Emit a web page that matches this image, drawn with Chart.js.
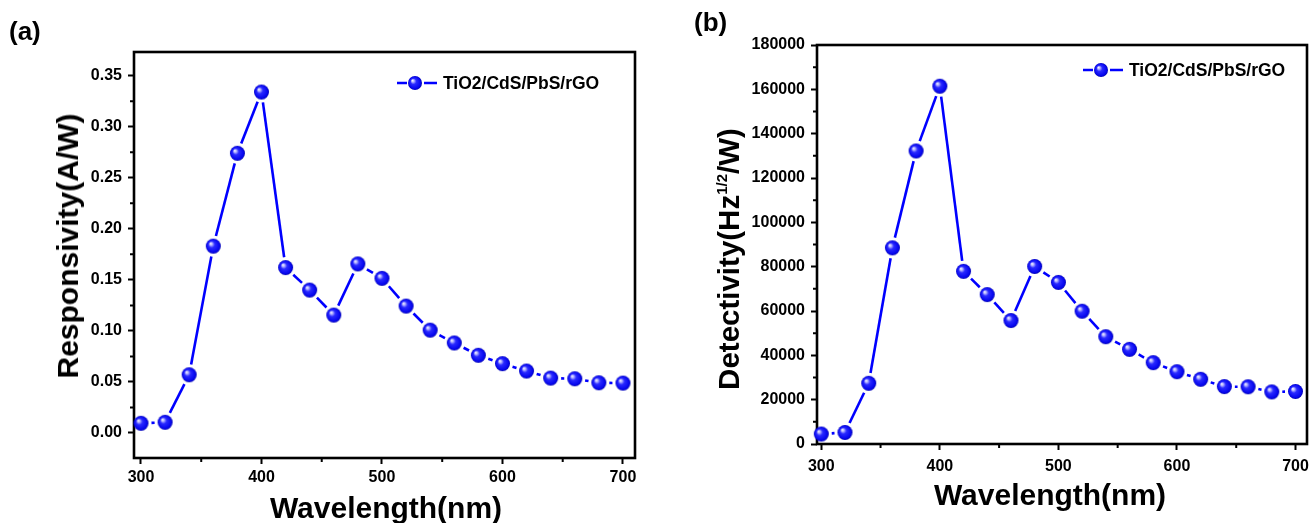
<!DOCTYPE html>
<html>
<head>
<meta charset="utf-8">
<script src="https://cdn.jsdelivr.net/npm/chart.js@4.4.1/dist/chart.umd.min.js"></script>
<style>
  body { margin: 0; background: #fff; }
  #wrap { position: relative; width: 1309px; height: 523px; overflow: hidden; font-family: "Liberation Sans", Arial, sans-serif; font-weight: bold; color: #000; }
  canvas { position: absolute; top: 0; }
  .txt { position: absolute; line-height: 1; white-space: nowrap; }
  .ctr { transform: translate(-50%, -50%); }
  .vert { transform: translate(-50%, -50%) rotate(-90deg); }
  .legend { position: absolute; display: flex; align-items: center; font-size: 17.5px; line-height: 16px; }
  .legend canvas { position: static; margin-right: 6px; }
</style>
</head>
<body>
<div id="wrap">
  <canvas id="chartA" width="660" height="523" style="left:0"></canvas>
  <canvas id="chartB" width="680" height="523" style="left:660px"></canvas>

  <div class="txt" style="left:9px;top:18px;font-size:26px">(a)</div>
  <div class="txt" style="left:694px;top:9px;font-size:26px">(b)</div>

  <div class="txt vert" style="left:68px;top:246px;font-size:30px">Responsivity(A/W)</div>
  <div class="txt vert" style="left:729px;top:259px;font-size:29.5px">Detectivity(Hz<span style="font-size:15px;position:relative;top:-12px">1/2</span>/W)</div>

  <div class="txt ctr" style="left:386px;top:508px;font-size:30px">Wavelength(nm)</div>
  <div class="txt ctr" style="left:1050px;top:495px;font-size:30px">Wavelength(nm)</div>

  <div class="legend" style="left:397px;top:75px"><canvas class="sym" width="40" height="16"></canvas>TiO2/CdS/PbS/rGO</div>
  <div class="legend" style="left:1083px;top:62px"><canvas class="sym" width="40" height="16"></canvas>TiO2/CdS/PbS/rGO</div>
</div>

<script>
// Données
const wavelength = [300, 320, 340, 360, 380, 400, 420, 440, 460, 480, 500,
                    520, 540, 560, 580, 600, 620, 640, 660, 680, 700];
const responsivity = [0.0095, 0.0105, 0.057, 0.183, 0.274, 0.334, 0.162, 0.140, 0.1155, 0.1656, 0.1515,
                      0.1243, 0.1007, 0.0882, 0.0761, 0.0679, 0.0607, 0.0538, 0.0531, 0.0492, 0.0489];
const detectivity = [4500, 5200, 27400, 88500, 132200, 161400, 77900, 67400, 55700, 80100, 72900,
                     59900, 48400, 42700, 36700, 32600, 29200, 25900, 25800, 23500, 23700];
const seriesName = 'TiO2/CdS/PbS/rGO';

// Graduations
const xTicks = [300, 400, 500, 600, 700];
const yTicksA = [0, 0.05, 0.10, 0.15, 0.20, 0.25, 0.30, 0.35];
const yTicksB = [0, 20000, 40000, 60000, 80000, 100000, 120000, 140000, 160000, 180000];

const BLUE = '#0000ff';

// Bille bleue avec reflet (style Origin)
function drawBall(g, x, y, r) {
    const grad = g.createRadialGradient(x - r * 0.38, y - r * 0.38, 0, x, y, r);
    grad.addColorStop(0, '#ffffff');
    grad.addColorStop(0.18, '#b8b8ff');
    grad.addColorStop(0.42, '#2a2aff');
    grad.addColorStop(0.85, '#0606ee');
    grad.addColorStop(1, '#0000b0');
    g.fillStyle = grad;
    g.beginPath();
    g.arc(x, y, r, 0, Math.PI * 2);
    g.fill();
}

function makeBall(r) {
    const c = document.createElement('canvas');
    const s = Math.ceil(r * 2) + 2;
    c.width = s;
    c.height = s;
    drawBall(c.getContext('2d'), s / 2, s / 2, r);
    return c;
}

// Symboles de légende : tiret - bille - tiret
document.querySelectorAll('.sym').forEach(c => {
    const g = c.getContext('2d');
    g.strokeStyle = BLUE;
    g.lineWidth = 2.6;
    g.beginPath();
    g.moveTo(0, 8); g.lineTo(10, 8);
    g.moveTo(27, 8); g.lineTo(40, 8);
    g.stroke();
    drawBall(g, 18, 8, 7);
});

// Cadre + graduations mineures
const frameAndMinor = {
    id: 'frameAndMinor',
    beforeDatasetsDraw(chart) {
        const {ctx, chartArea: a, scales: {x, y}} = chart;
        const mid = arr => arr.slice(1).map((v, i) => (v + arr[i]) / 2);
        ctx.save();
        ctx.strokeStyle = '#000';
        ctx.lineWidth = 2;
        ctx.beginPath();
        mid(xTicks).forEach(v => {
            const px = x.getPixelForValue(v);
            ctx.moveTo(px, a.bottom);
            ctx.lineTo(px, a.bottom + 4);
        });
        mid(chart.options.yMajor).forEach(v => {
            const py = y.getPixelForValue(v);
            ctx.moveTo(a.left, py);
            ctx.lineTo(a.left - 4, py);
        });
        ctx.stroke();
        ctx.lineWidth = 2.6;
        ctx.strokeRect(a.left, a.top, a.right - a.left, a.bottom - a.top);
        ctx.restore();
    }
};

Chart.defaults.font.family = '"Liberation Sans", Arial, sans-serif';
Chart.defaults.font.weight = 'bold';
Chart.defaults.font.size = 16;
Chart.defaults.color = '#000';

// Trait interrompu autour des billes
const GAP = 10.5;
function gapDash(ctx) {
    const L = Math.hypot(ctx.p1.x - ctx.p0.x, ctx.p1.y - ctx.p0.y);
    return L > 2 * GAP ? [0, GAP, L - 2 * GAP, GAP] : [0, L + 1];
}

function makeChart(id, values, yMajor, cfg) {
    const ctx = document.getElementById(id).getContext('2d');
    return new Chart(ctx, {
        type: 'line',
        data: {
            datasets: [{
                label: seriesName,
                data: wavelength.map((w, i) => ({x: w, y: values[i]})),
                borderColor: BLUE,
                borderWidth: 2.6,
                borderCapStyle: 'butt',
                pointStyle: makeBall(7.5),
                pointRadius: 7.5,
                clip: false,
                segment: { borderDash: gapDash }
            }]
        },
        options: {
            responsive: false,
            animation: false,
            yMajor: yMajor,
            layout: { padding: cfg.padding },
            plugins: { legend: { display: false }, tooltip: { enabled: false } },
            scales: {
                x: {
                    type: 'linear',
                    min: cfg.xMin,
                    max: cfg.xMax,
                    afterBuildTicks: s => { s.ticks = xTicks.map(v => ({value: v})); },
                    afterFit: s => { s.height = cfg.xHeight; },
                    ticks: { padding: cfg.xPad, callback: v => String(v) },
                    grid: { drawOnChartArea: false, tickLength: 6, tickWidth: 2, tickColor: '#000' },
                    border: { display: false }
                },
                y: {
                    type: 'linear',
                    min: cfg.yMin,
                    max: cfg.yMax,
                    afterBuildTicks: s => { s.ticks = yMajor.map(v => ({value: v})); },
                    afterFit: s => { s.width = cfg.yWidth; },
                    ticks: { padding: 6, callback: cfg.fmt },
                    grid: { drawOnChartArea: false, tickLength: 6, tickWidth: 2, tickColor: '#000' },
                    border: { display: false }
                }
            }
        },
        plugins: [frameAndMinor]
    });
}

makeChart('chartA', responsivity, yTicksA, {
    padding: { top: 52, right: 25, left: 0, bottom: 0 },
    xMin: 294.2, xMax: 710, xHeight: 65, xPad: 4,
    yMin: -0.0245, yMax: 0.3732, yWidth: 134,
    fmt: v => v.toFixed(2)
});

// le cadre (b) va jusqu'au bord droit de l'image
makeChart('chartB', detectivity, yTicksB, {
    padding: { top: 45, right: 33, left: 0, bottom: 0 },
    xMin: 296.4, xMax: 709.7, xHeight: 79, xPad: 7,
    yMin: 0, yMax: 180000, yWidth: 157,
    fmt: v => String(v)
});
</script>
</body>
</html>
